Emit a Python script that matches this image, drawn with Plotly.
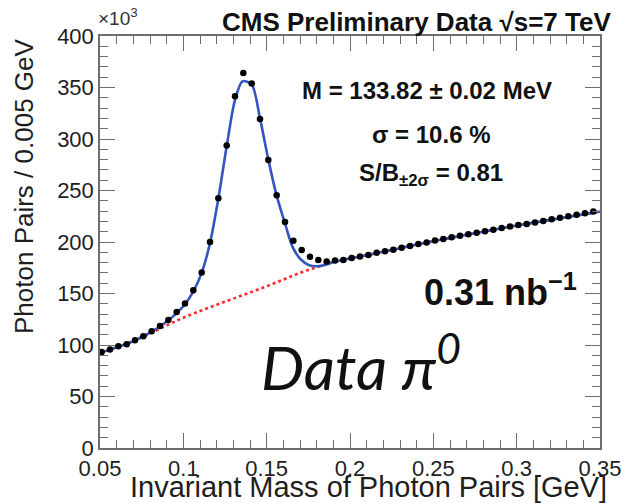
import plotly.graph_objects as go

# ---- data (values in units of 10^3 photon pairs per 0.005 GeV) ----
mass = [round(0.051 + 0.005 * i, 4) for i in range(60)]
counts = [93.3, 95.6, 98.8, 100.8, 104.7, 108.5, 113.4, 118.5, 124.3, 132.1,
          140.2, 153.1, 170.5, 199.9, 242.5, 293.6, 341.4, 364.0, 354.0, 319.5,
          279.7, 245.4, 219.3, 201.3, 192.2, 185.7, 182.5, 181.0, 182.0, 182.5,
          184.5, 186.0, 187.5, 189.5, 191.0, 192.5, 194.5, 196.0, 198.0, 199.5,
          201.5, 203.0, 204.5, 206.0, 207.5, 209.0, 210.5, 212.0, 213.5, 215.0,
          216.5, 217.5, 219.0, 220.5, 222.0, 223.5, 225.0, 226.5, 228.0, 229.5]

fit_x = [0.050, 0.056, 0.061, 0.066, 0.071, 0.076, 0.081, 0.086, 0.091, 0.096,
         0.101, 0.106, 0.111, 0.116, 0.121, 0.126, 0.131, 0.1355, 0.141, 0.146,
         0.151, 0.156, 0.161, 0.1656, 0.1705, 0.1755, 0.1805, 0.1855, 0.19, 0.20,
         0.22, 0.24, 0.26, 0.28, 0.30, 0.32, 0.35]
fit_y = [92.5, 95.5, 98.5, 101.0, 104.5, 108.5, 113.0, 118.0, 124.0, 131.0,
         139.5, 152.0, 170.0, 199.0, 242.0, 293.0, 338.0, 356.0, 353.0, 320.0,
         280.0, 245.0, 218.0, 195.0, 183.0, 177.5, 176.5, 178.0, 180.5, 184.0,
         190.5, 197.5, 204.0, 210.0, 216.0, 221.5, 229.5]

bkg_x = [0.05, 0.06, 0.07, 0.08, 0.09, 0.10, 0.11, 0.12, 0.13, 0.14, 0.15,
         0.16, 0.17, 0.18, 0.19, 0.20, 0.22, 0.24, 0.26, 0.28, 0.30, 0.32, 0.35]
bkg_y = [92.5, 97.5, 104.0, 111.0, 119.0, 126.5, 133.0, 139.0, 145.0, 151.0, 157.0,
         163.5, 170.0, 175.5, 180.5, 184.0, 190.5, 197.5, 204.0, 210.0, 216.0, 221.5, 229.5]

x_ticks = [0.05, 0.1, 0.15, 0.2, 0.25, 0.3, 0.35]
x_tick_labels = ["0.05", "0.1", "0.15", "0.2", "0.25", "0.3", "0.35"]
y_ticks = [0, 50, 100, 150, 200, 250, 300, 350, 400]

FONT = "Liberation Sans, Arial, sans-serif"
AX = "#6e6e6e"

fig = go.Figure()
fig.add_trace(go.Scatter(x=bkg_x, y=bkg_y, mode="lines", line=dict(color="#ff2a2a", width=2.6, dash="dot", shape="spline"),
                         hoverinfo="skip"))
fig.add_trace(go.Scatter(x=fit_x, y=fit_y, mode="lines", line=dict(color="#3556c0", width=2.6, shape="spline", smoothing=0.8),
                         hoverinfo="skip"))
fig.add_trace(go.Scatter(x=mass, y=counts, mode="markers", marker=dict(color="black", size=6.5)))

axis_common = dict(showgrid=False, zeroline=False, showline=True, linecolor=AX, linewidth=1.5,
                   mirror="allticks", ticks="inside", tickcolor=AX, tickwidth=1.3, ticklen=15,
                   automargin=False,
                   tickfont=dict(family=FONT, size=22, color="#1e1e1e"))
fig.update_xaxes(range=[0.05, 0.35], tickvals=x_ticks, ticktext=x_tick_labels,
                 minor=dict(ticks="inside", ticklen=8, dtick=0.01, tickcolor=AX, tickwidth=1.3),
                 **axis_common)
fig.update_yaxes(range=[0, 400], tickvals=y_ticks,
                 minor=dict(ticks="inside", ticklen=8, dtick=10, tickcolor=AX, tickwidth=1.3),
                 **axis_common)

L, R, T, B = 100, 24, 36, 55
W, H = 624, 503
pw, ph = W - L - R, H - T - B


def px(x):
    return (x - L) / pw


def py(y):
    return (H - B - y) / ph


def note(text, x, y, size, xanchor="center", family=FONT, color="#111", angle=0):
    return dict(text=text, x=px(x), y=py(y), xref="paper", yref="paper", xanchor=xanchor, yanchor="middle",
                textangle=angle, font=dict(family=family, size=size, color=color), showarrow=False)


ann = [
    note("<b>CMS Preliminary Data √s=7 TeV</b>", 613, 22, 26, xanchor="right"),
    note("×10<sup>3</sup>", 96, 17, 19, xanchor="left", color="#333"),
    note("Photon Pairs / 0.005 GeV", 24, 186, 26, color="#1e1e1e", angle=-90),
    note("Invariant Mass of Photon Pairs [GeV]", 609, 487, 29, xanchor="right", color="#1e1e1e"),
    note("<b>M = 133.82 ± 0.02 MeV</b>", 427, 90, 24),
    note("<b>σ = 10.6 %</b>", 431, 134, 24),
    note("<b>S/B<sub>±2σ</sub> = 0.81</b>", 431, 175, 24),
    note("<b>0.31 nb<sup>−1</sup></b>", 500, 290, 36),
    note("<i>Data π<sup>0</sup></i>", 361, 362, 61, family="Lato, Open Sans, sans-serif"),
]

fig.update_layout(width=W, height=H, margin=dict(l=L, r=R, t=T, b=B, autoexpand=False),
                  paper_bgcolor="white", plot_bgcolor="white", showlegend=False,
                  annotations=ann)
fig.write_html("out.html", config={"displayModeBar": False},
               post_script="document.body.style.margin='0';document.documentElement.style.overflow='hidden';")
